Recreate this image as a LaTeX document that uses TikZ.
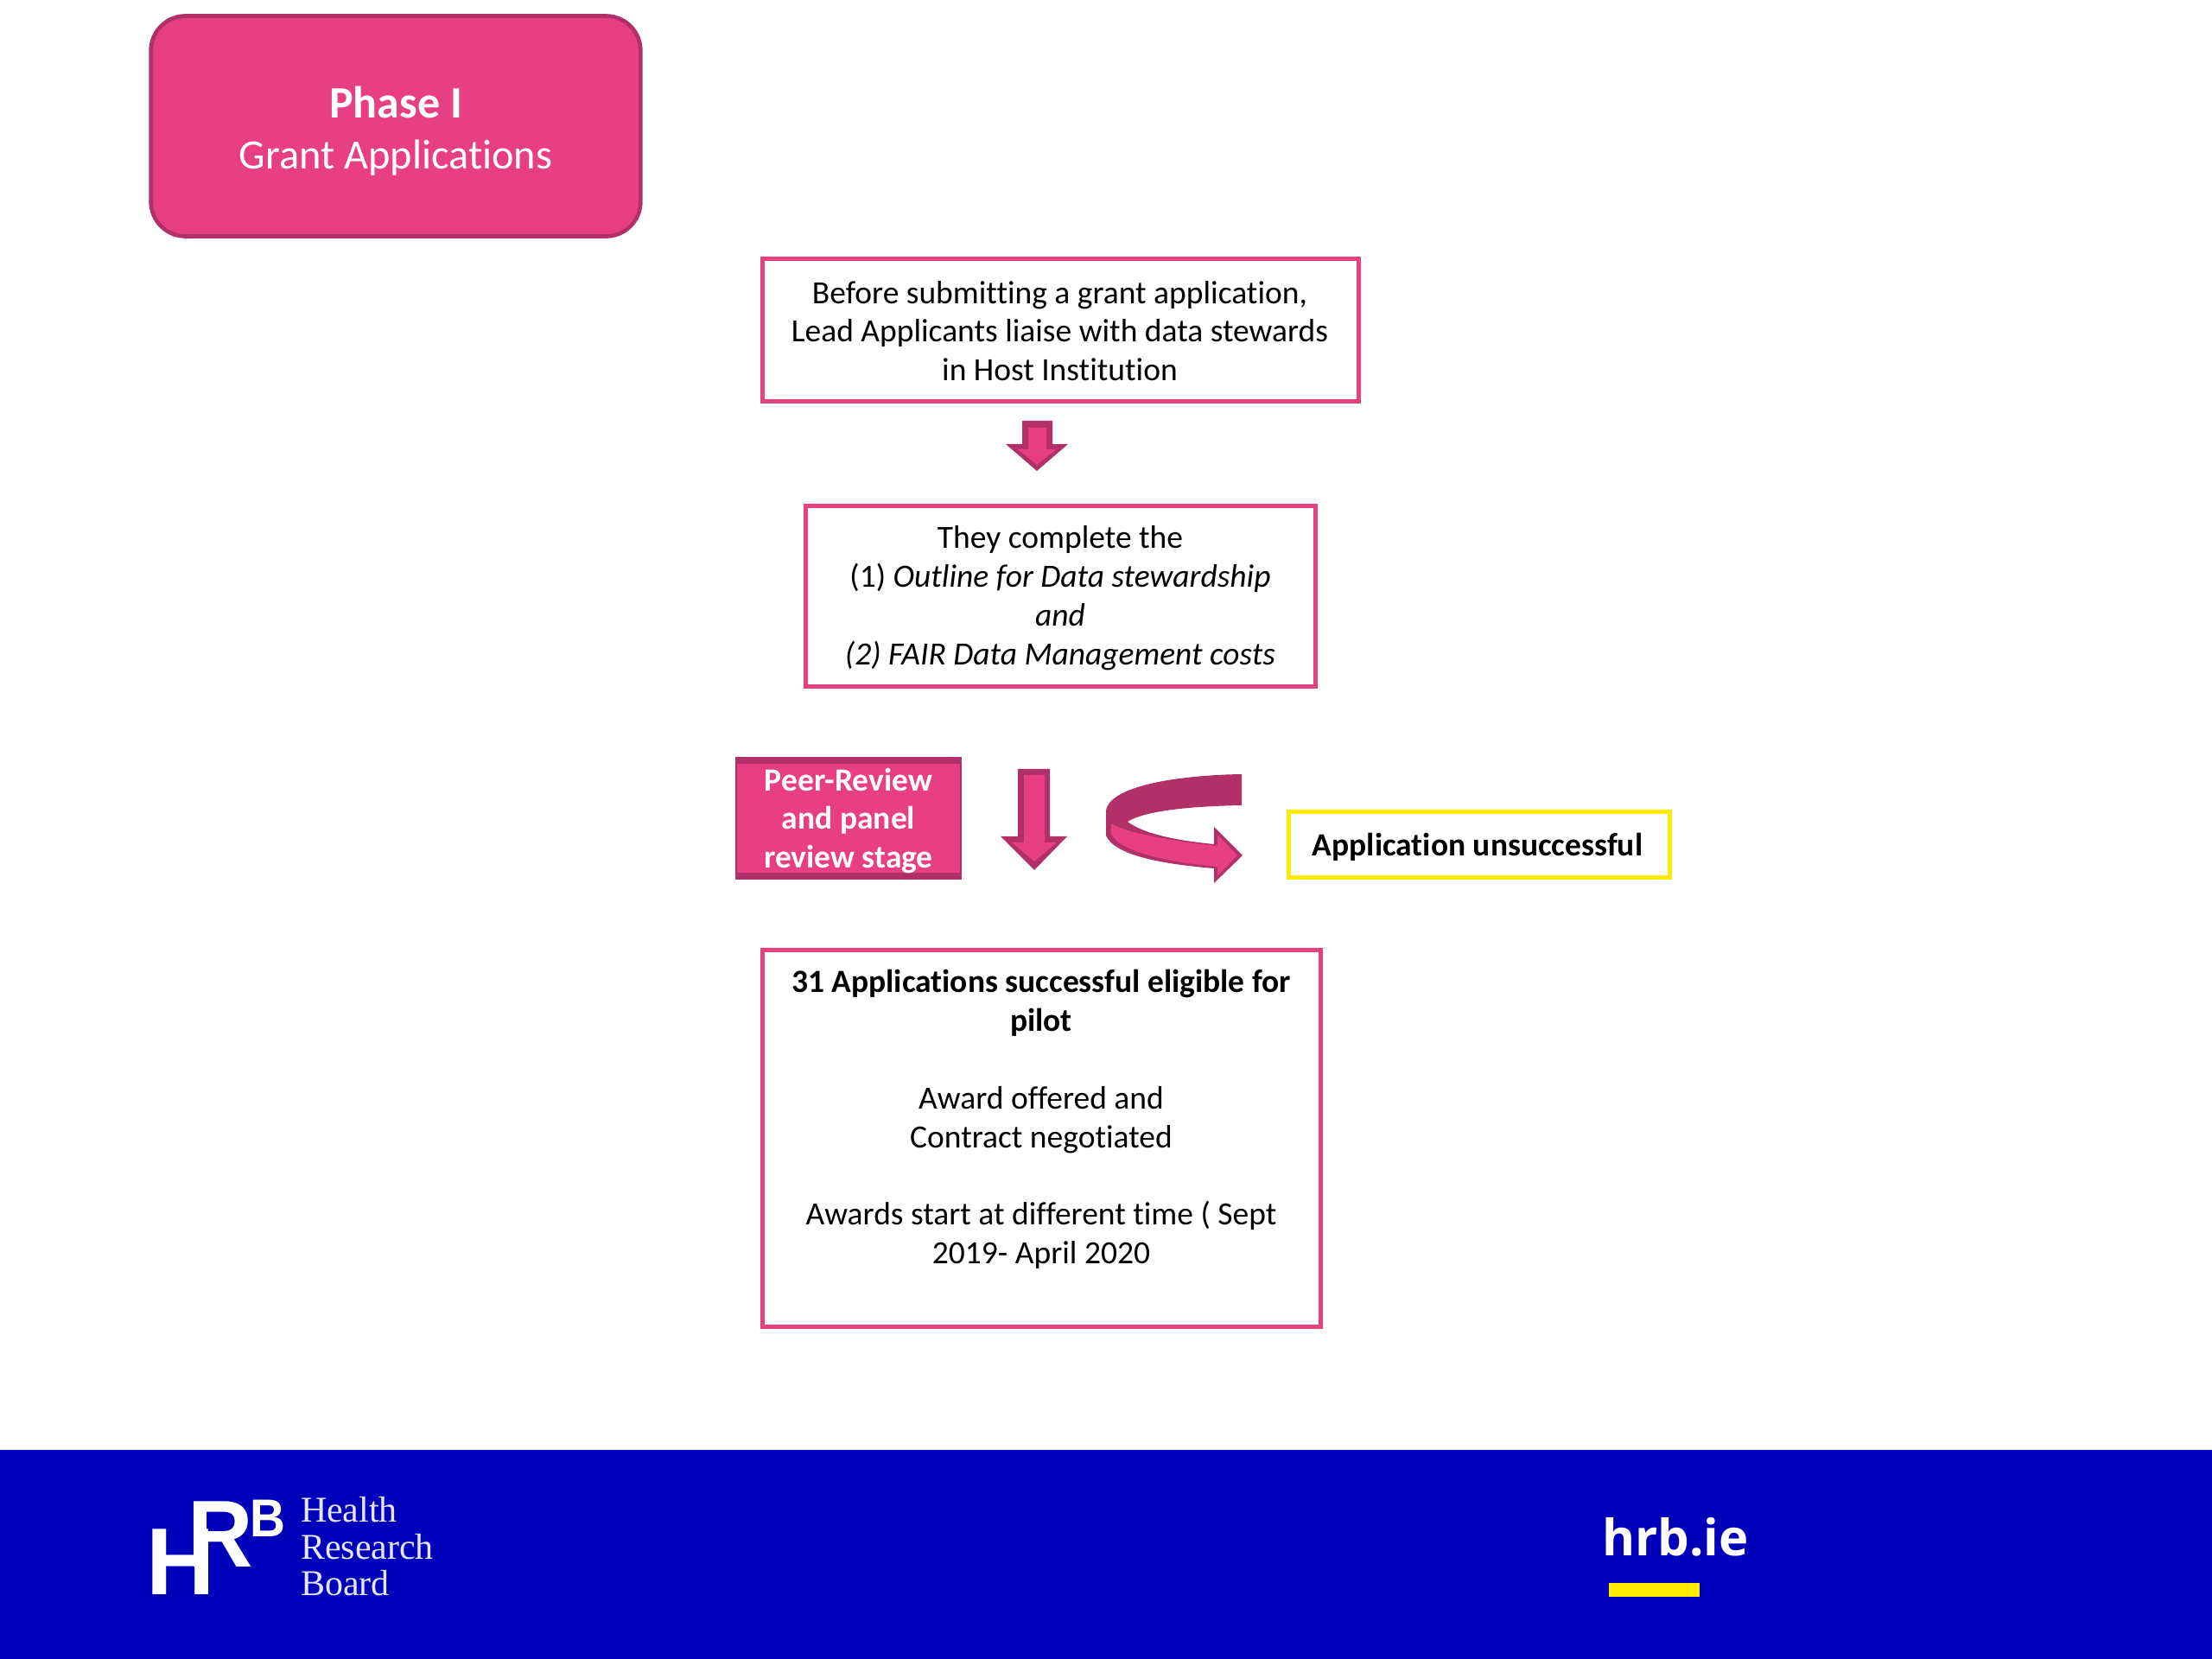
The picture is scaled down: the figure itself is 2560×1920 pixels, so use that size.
\documentclass[tikz,border=0pt]{standalone}
\usepackage{fontspec}
\setmainfont{Carlito}[Ligatures=NoCommon]
\newfontfamily\logosans{Liberation Sans}
\newfontfamily\logoserif{Liberation Serif}
\newfontfamily\urlsans{Open Sans}
\definecolor{hpink}{HTML}{E83E82}
\definecolor{hdark}{HTML}{B2306A}
\definecolor{hline}{HTML}{E6427F}
\definecolor{hblue}{HTML}{0000BB}
\definecolor{hyellow}{HTML}{FFEB00}
\definecolor{hserif}{HTML}{E4E6F6}
\tikzset{
  body/.style={font=\fontsize{11.25pt}{13.44pt}\selectfont, align=center, text=black, inner sep=0pt, outer sep=0pt},
  flowbox/.style={draw=hline, fill=white, line width=1.5pt, inner sep=0pt, outer sep=0pt},
  yellowbox/.style={draw=hyellow, fill=white, line width=1.5pt, inner sep=0pt, outer sep=0pt},
  peerbox/.style={fill=hpink, draw=hdark, line width=.8pt, inner sep=0pt, outer sep=0pt,
    path picture={\fill[hdark] (path picture bounding box.north west) rectangle ([yshift=-2pt]path picture bounding box.north east);
                  \fill[hdark] (path picture bounding box.south west) rectangle ([yshift=2pt]path picture bounding box.south east);}},
  peertext/.style={font=\fontsize{11.25pt}{13.44pt}\selectfont\bfseries, align=center, text=white, inner sep=0pt, outer sep=0pt},
  phasebox/.style={fill=hpink, draw=hdark, line width=1.4pt, rounded corners=12pt, inner sep=0pt, outer sep=0pt},
  phasetext/.style={text=white, inner sep=0pt, outer sep=0pt},
  arrowout/.style={fill=hdark, draw=none},
  arrowin/.style={fill=hpink, draw=none},
  logoletter/.style={text=white, inner sep=0pt, outer sep=0pt, anchor=base west},
  logoname/.style={text=hserif, inner sep=0pt, outer sep=0pt, anchor=west, align=left, font=\logoserif\fontsize{12.6pt}{12.75pt}\selectfont}
}
\begin{document}
\begin{tikzpicture}[x=0.3pt,y=-0.3pt]
\useasboundingbox (0,0) rectangle (2560,1920);
\fill[white] (0,0) rectangle (2560,1920);
% footer
\fill[hblue] (0,1678) rectangle (2560,1920);
% phase
\node[phasebox, minimum width=170pt, minimum height=76.5pt] (phase) at (458,146) {};
\node[phasetext, font=\fontsize{15.6pt}{18pt}\selectfont\bfseries] (phasetitle) at (458,118) {Phase I};
\node[phasetext, font=\fontsize{14.5pt}{18pt}\selectfont] (phasesub) at (458,183) {Grant Applications};
% boxes
\node[flowbox, minimum width=207pt, minimum height=49.5pt] (before) at (1227,382) {};
\node[body] (beforetext) at (1226.5,383) {Before submitting a grant application,\\Lead Applicants liaise with data stewards\\in Host Institution};
\node[flowbox, minimum width=177pt, minimum height=62.7pt] (complete) at (1227,690) {};
\node[body] (completetext) at (1227,692) {They complete the\\(1) \textit{Outline for Data stewardship}\\\textit{and}\\\textit{(2) FAIR Data Management costs}};
\node[peerbox, minimum width=78pt, minimum height=42pt] (peer) at (982,947) {};
\node[peertext] (peertitle) at (982,950) {Peer-Review\\and panel\\review stage};
\node[yellowbox, minimum width=132.3pt, minimum height=22.8pt] (unsuccessful) at (1712,978) {};
\node[body] (unsuccessfultext) at (1710,980) {\textbf{Application unsuccessful}};
\node[flowbox, minimum width=193.8pt, minimum height=130.8pt] (success) at (1205,1317) {};
\node[body] (successtext) at (1205,1315) {\textbf{31 Applications successful eligible for}\\\textbf{pilot}\\~\\Award offered and\\Contract negotiated\\~\\Awards start at different time ( Sept\\2019- April 2020\\~};
% small down arrow
\fill[arrowout] (1183,487) -- (1218,487) -- (1218,514) -- (1236,514) -- (1200,545) -- (1164,514) -- (1183,514) -- cycle;
\fill[arrowin] (1190,495) -- (1211,495) -- (1211,520) -- (1222,520) -- (1200,538) -- (1178,520) -- (1190,520) -- cycle;
% long down arrow
\fill[arrowout] (1178,890) -- (1215,890) -- (1215,968) -- (1235,968) -- (1197,1007) -- (1158,968) -- (1178,968) -- cycle;
\fill[arrowin] (1185,897) -- (1209,897) -- (1209,975) -- (1223,975) -- (1197,997) -- (1171,975) -- (1185,975) -- cycle;
% curved arrow
\fill[hdark] (1437,896) .. controls (1370,897) and (1285,908) .. (1280,938) -- (1280,967) .. controls (1290,990) and (1345,1000) .. (1405,1005) -- (1405,1022) -- (1438,990) -- (1405,957) -- (1405,977) .. controls (1365,973) and (1325,966) .. (1305,951) .. controls (1325,938) and (1380,933) .. (1437,932) -- cycle;
\fill[hpink] (1286,953) .. controls (1298,962) and (1350,973) .. (1409,979) -- (1409,966) -- (1432,990) -- (1409,1014) -- (1409,1003) .. controls (1350,998) and (1295,985) .. (1286,965) -- cycle;
% logo
\node[logoletter, font=\logosans\bfseries\fontsize{33pt}{33pt}\selectfont] (logoh) at (169.5,1845) {H};
\node[logoletter, font=\logosans\bfseries\fontsize{33pt}{33pt}\selectfont, xscale=.95] (logor) at (217,1813) {R};
\node[logoletter, font=\logosans\bfseries\fontsize{18.5pt}{18.5pt}\selectfont, xscale=.92] (logob) at (289,1778) {B};
\node[logoname] (boardname) at (348,1790) {Health\\Research\\Board};
\node[logoletter, font=\urlsans\bfseries\fontsize{17.4pt}{17.4pt}\selectfont] (hrbie) at (1854,1800) {hrb.ie};
\fill[hyellow] (1862,1832) rectangle (1967,1848);
\end{tikzpicture}
\end{document}
